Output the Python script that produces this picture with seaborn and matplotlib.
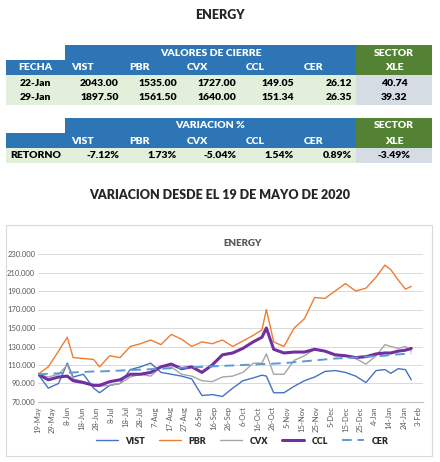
import matplotlib
matplotlib.use("Agg")
import matplotlib.pyplot as plt
from matplotlib.patches import Rectangle
from matplotlib.lines import Line2D
import seaborn as sns
import pandas as pd

sns.set_style("white")
plt.rcParams['font.family'] = ['Lato', 'DejaVu Sans']

# ---------------- data ----------------
tickers = ["VIST", "PBR", "CVX", "CCL", "CER"]
fechas = ["22-Jan", "29-Jan"]
cierre_22 = ["2043.00", "1535.00", "1727.00", "149.05", "26.12"]
cierre_29 = ["1897.50", "1561.50", "1640.00", "151.34", "26.35"]
xle_cierre = ["40.74", "39.32"]
retorno = ["-7.12%", "1.73%", "-5.04%", "1.54%", "0.89%"]
xle_retorno = "-3.49%"

dates = ["2020-05-19", "2020-05-26", "2020-06-02", "2020-06-08", "2020-06-12", "2020-06-19",
         "2020-06-26", "2020-06-30", "2020-07-07", "2020-07-14", "2020-07-21", "2020-07-28",
         "2020-08-04", "2020-08-11", "2020-08-18", "2020-08-25", "2020-09-01", "2020-09-08",
         "2020-09-15", "2020-09-22", "2020-09-29", "2020-10-06", "2020-10-13", "2020-10-19",
         "2020-10-22", "2020-10-27", "2020-11-03", "2020-11-10", "2020-11-17", "2020-11-24",
         "2020-12-01", "2020-12-08", "2020-12-15", "2020-12-22", "2020-12-29", "2021-01-05",
         "2021-01-11", "2021-01-15", "2021-01-20", "2021-01-25", "2021-01-29"]
vist = [100, 85, 90, 112, 97, 100, 85, 80, 88, 90, 105, 108, 112, 102, 100, 98, 95, 77, 78, 76,
        85, 93, 96, 99, 98, 80, 80, 87, 93, 97, 103, 104, 102, 98, 91, 104, 105, 101, 106, 105, 94]
pbr = [100, 108, 125, 140, 118, 117, 116, 108, 120, 118, 130, 133, 137, 132, 143, 138, 130, 135,
       133, 137, 130, 136, 142, 148, 170, 135, 130, 150, 160, 183, 182, 190, 198, 190, 193, 205,
       218, 213, 202, 192, 195]
cvx = [100, 97, 100, 110, 95, 92, 88, 87, 88, 90, 97, 100, 98, 108, 108, 100, 98, 93, 92, 97,
       98, 102, 112, 112, 122, 100, 100, 115, 120, 127, 125, 120, 120, 117, 111, 120, 132, 130,
       128, 130, 125]
ccl = [100, 94, 97, 98, 93, 91, 88, 88, 92, 94, 100, 100, 102, 108, 111, 106, 108, 102, 110,
       121, 123, 128, 135, 140, 150, 127, 123, 124, 124, 127, 125, 121, 120, 118, 119, 122, 123,
       123, 125, 126, 128]
cer = [100, 100.5, 101, 101.5, 102, 102.5, 103, 103, 103.5, 104, 104.5, 105, 105.5, 106, 106.5,
       107, 107.5, 108, 108.5, 109, 109.5, 110, 110.5, 111, 111, 111.5, 112, 113, 114, 115, 116,
       117, 117.5, 118, 119, 119.5, 120, 121, 121.5, 122, 122.5]
yticks = [70, 90, 110, 130, 150, 170, 190, 210, 230]

# ---------------- figure ----------------
fig = plt.figure(figsize=(4.4, 4.62), dpi=100)
bg = fig.add_axes([0, 0, 1, 1])
bg.set_xlim(0, 440)
bg.set_ylim(462, 0)
bg.axis("off")

BLUE = "#2E75B6"
GREEN = "#548235"
LGREEN = "#E2EFDA"
LGRAY = "#D6DCE4"
cols = [6, 65, 123, 181, 240, 298, 356, 432]
fs = 7.5

def rect(x0, y0, x1, y1, c):
    bg.add_patch(Rectangle((x0, y0), x1 - x0, y1 - y0, facecolor=c, edgecolor="none"))

def txt(x, y, s, color="black", ha="center"):
    bg.text(x, y, s, ha=ha, va="center", fontsize=fs, fontweight="heavy", color=color)

bg.text(220, 15, "ENERGY", ha="center", va="center", fontsize=9, fontweight="heavy")

def header(y0, title):
    rect(cols[1], y0, cols[6], y0 + 15, BLUE)
    rect(cols[0], y0 + 15, cols[6], y0 + 30, BLUE)
    rect(cols[6], y0, cols[7], y0 + 30, GREEN)
    txt((cols[1] + cols[6]) / 2, y0 + 8, title, "white")
    txt((cols[6] + cols[7]) / 2, y0 + 8, "SECTOR", "white")
    txt((cols[6] + cols[7]) / 2, y0 + 23, "XLE", "white")
    for i, t in enumerate(tickers):
        txt(cols[i + 1] + 6, y0 + 23, t, "white", ha="left")

header(45, "VALORES DE CIERRE")
txt((cols[0] + cols[1]) / 2, 68, "FECHA", "white")
for r, (f, vals, xv) in enumerate(zip(fechas, [cierre_22, cierre_29], xle_cierre)):
    y0 = 75 + 15 * r
    rect(cols[0], y0, cols[6], y0 + 15, LGREEN)
    rect(cols[6], y0, cols[7], y0 + 15, LGRAY)
    txt((cols[0] + cols[1]) / 2, y0 + 8, f)
    for i, v in enumerate(vals):
        txt(cols[i + 2] - 4, y0 + 8, v, ha="right")
    txt((cols[6] + cols[7]) / 2, y0 + 8, xv)

header(118, "VARIACION %")
y0 = 148
rect(cols[0], y0, cols[6], y0 + 15, LGREEN)
rect(cols[6], y0, cols[7], y0 + 15, LGRAY)
txt((cols[0] + cols[1]) / 2, y0 + 8, "RETORNO")
for i, v in enumerate(retorno):
    txt(cols[i + 2] - 4, y0 + 8, v, ha="right")
txt((cols[6] + cols[7]) / 2, y0 + 8, xle_retorno)

bg.text(220, 195, "VARIACION DESDE EL 19 DE MAYO DE 2020", ha="center", va="center",
        fontsize=9, fontweight="heavy")
bg.add_patch(Rectangle((6, 225), 426, 231, facecolor="white", edgecolor="#D9D9D9", lw=0.8))
bg.text(243, 243, "ENERGY", ha="center", va="center", fontsize=7, fontweight="heavy", color="#595959")

# ---------------- chart ----------------
ax = fig.add_axes([38 / 440, 1 - 402 / 462, 385 / 440, 148 / 462])
df = pd.DataFrame({"date": pd.to_datetime(dates), "VIST": vist, "PBR": pbr, "CVX": cvx,
                   "CCL": ccl, "CER": cer})
styles = {"VIST": ("#4472C4", 1.0, "-"), "PBR": ("#ED7D31", 1.0, "-"), "CVX": ("#A5A5A5", 1.0, "-"),
          "CCL": ("#7030A0", 2.2, "-"), "CER": ("#5B9BD5", 1.4, (0, (5, 3)))}
for t in tickers:
    c, lw, ls = styles[t]
    sns.lineplot(data=df, x="date", y=t, ax=ax, color=c, linewidth=lw, linestyle=ls)

ax.set_ylim(70, 230)
ax.set_yticks(yticks)
ax.set_yticklabels([f"{v:.3f}" for v in yticks], fontsize=5.5, color="#595959")
start = pd.Timestamp("2020-05-19")
xt = pd.date_range(start, pd.Timestamp("2021-02-03"), freq="10D")
ax.set_xlim(start, pd.Timestamp("2021-02-06"))
ax.set_xticks(xt)
ax.set_xticklabels([f"{d.day}-{d.strftime('%b')}" for d in xt], rotation=90, fontsize=5.5,
                   color="#595959")
ax.grid(axis="y", color="#D9D9D9", lw=0.7)
for s in ["top", "right", "left"]:
    ax.spines[s].set_visible(False)
ax.spines["bottom"].set_color("#BFBFBF")
ax.tick_params(axis="x", length=2, color="#BFBFBF", pad=1)
ax.tick_params(axis="y", length=0, pad=2)
ax.set_xlabel("")
ax.set_ylabel("")

handles = [Line2D([], [], color=styles[t][0], lw=styles[t][1], ls=styles[t][2]) for t in tickers]
fig.legend(handles, tickers, loc="center", bbox_to_anchor=(0.55, 1 - 441 / 462), ncol=5,
           frameon=False, handlelength=2.5, columnspacing=1.5,
           prop={"weight": "heavy", "size": 6.5})

fig.savefig("out.png", dpi=100)
